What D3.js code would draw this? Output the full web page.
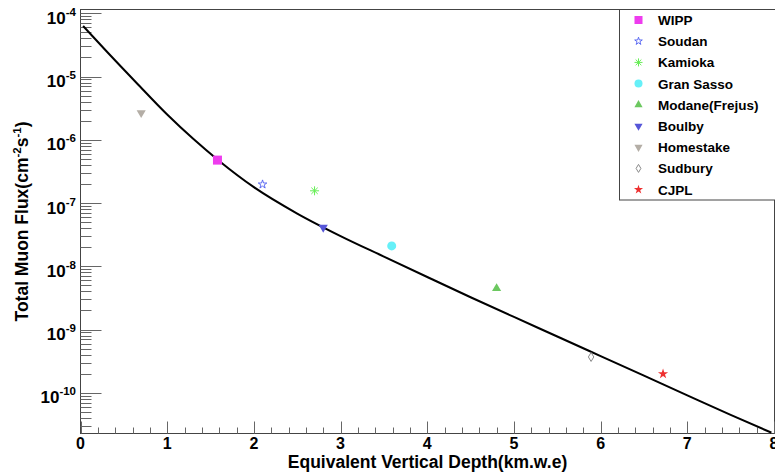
<!DOCTYPE html>
<html><head><meta charset="utf-8">
<script src="https://cdn.jsdelivr.net/npm/d3@7"></script>
<style>
body{margin:0;background:#fff}
svg{display:block;font-family:"Liberation Sans",Arial,Helvetica,sans-serif;font-weight:bold}
</style></head>
<body><svg id="c" width="775" height="473"></svg>
<script>
// ---- data ----
const sites = ["WIPP","Soudan","Kamioka","Gran Sasso","Modane(Frejus)","Boulby","Homestake","Sudbury","CJPL"];
const siteDepth = [1.58, 2.10, 2.70, 3.59, 4.80, 2.80, 0.70, 5.89, 6.72];
const siteFlux  = [4.77e-7, 1.97e-7, 1.56e-7, 2.1e-8, 4.46e-9, 4.11e-8, 2.67e-6, 3.68e-10, 1.98e-10];
const curveDepth = [0.03, 0.3, 0.65, 1.0, 1.3, 1.6, 2.0, 2.5, 3.0, 3.5, 4.0, 4.5, 5.0, 5.5, 6.0, 6.5, 7.0, 7.5, 7.97];
const curveFlux  = [6.3e-5, 2.51e-5, 7.85e-6, 2.51e-6, 1.035e-6, 4.62e-7, 1.78e-7, 6.81e-8, 3.0e-8, 1.42e-8, 6.76e-9, 3.24e-9, 1.58e-9, 7.76e-10, 3.8e-10, 1.86e-10, 9.1e-11, 4.47e-11, 2.34e-11];
const xTicks = [0,1,2,3,4,5,6,7,8];
const yExponents = [-4,-5,-6,-7,-8,-9,-10];

// ---- styles ----
const markerStyle = {
  "WIPP":          {type:"square",  color:"#ee3cee"},
  "Soudan":        {type:"ostar",   color:"#4f5ff0"},
  "Kamioka":       {type:"aster",   color:"#66ee55"},
  "Gran Sasso":    {type:"circle",  color:"#66f0f8"},
  "Modane(Frejus)":{type:"tri",     color:"#6cc860"},
  "Boulby":        {type:"tridown", color:"#5656d8"},
  "Homestake":     {type:"tridown", color:"#b4aea6"},
  "Sudbury":       {type:"odiam",   color:"#8a8a8a"},
  "CJPL":          {type:"star",    color:"#ee3030"}
};

const svg = d3.select("#c");
const L=80.5, R=774.5, T=9.5, B=433.5;
const x = d3.scaleLinear().domain([0,8]).range([L, R-0.5]);
const y = d3.scaleLog().domain([2.31e-11, 1.148e-4]).range([B-0.5, T]);

const axisCol="#444", tickCol="#666";

// frame
svg.append("rect").attr("x",L).attr("y",T).attr("width",R-L).attr("height",B-T)
  .attr("fill","none").attr("stroke",axisCol).attr("stroke-width",1);

// x ticks
const xMinor = d3.range(0, 8.0001, 0.2);
svg.append("g").selectAll("line").data(xMinor).join("line")
  .attr("x1",d=>Math.round(x(d))+0.5).attr("x2",d=>Math.round(x(d))+0.5)
  .attr("y1",B).attr("y2",d=> (Math.abs(d-Math.round(d))<1e-6) ? B-12 : B-6)
  .attr("stroke",tickCol);
svg.append("g").selectAll("text").data(xTicks).join("text")
  .attr("x",d=>x(d)).attr("y",449).attr("text-anchor","middle")
  .attr("font-size",16).attr("fill","#000").text(d=>d);

// y ticks
const yMinor = [];
for (let e=-11;e<=-4;e++) for (let m=1;m<=9;m++){ const v=m*Math.pow(10,e); if (v>=2.31e-11 && v<=1.148e-4) yMinor.push({v, major:m===1}); }
svg.append("g").selectAll("line").data(yMinor).join("line")
  .attr("x1",L).attr("x2",d=>d.major? L+21 : L+11)
  .attr("y1",d=>Math.round(y(d.v))+0.5).attr("y2",d=>Math.round(y(d.v))+0.5)
  .attr("stroke",tickCol);
const yl = svg.append("g").selectAll("text").data(yExponents).join("text")
  .attr("x",76).attr("y",d=>y(Math.pow(10,d))+10.5).attr("text-anchor","end")
  .attr("font-size",17).attr("fill","#000");
yl.append("tspan").text("10");
yl.append("tspan").attr("dy",-8).attr("font-size",11.5).text(d=>"-"+(-d));

// axis titles
svg.append("text").attr("x",(L+R)/2).attr("y",468).attr("text-anchor","middle")
  .attr("font-size",17.5).text("Equivalent Vertical Depth(km.w.e)");
const yt = svg.append("text").attr("transform",`translate(28,${(T+B)/2}) rotate(-90)`)
  .attr("text-anchor","middle").attr("font-size",17.5);
yt.append("tspan").text("Total Muon Flux(cm");
yt.append("tspan").attr("dy",-7).attr("font-size",11.5).text("-2");
yt.append("tspan").attr("dy",7).text("s");
yt.append("tspan").attr("dy",-7).attr("font-size",11.5).text("-1");
yt.append("tspan").attr("dy",7).text(")");

// curve
const pts = curveDepth.map((d,i)=>[d, curveFlux[i]]);
svg.append("path").datum(pts)
  .attr("d", d3.line().x(d=>x(d[0])).y(d=>y(d[1])).curve(d3.curveMonotoneX))
  .attr("fill","none").attr("stroke","#000").attr("stroke-width",2);

// marker drawing
function drawMarker(g, cx, cy, st, s){
  const c = st.color;
  const t = `translate(${cx},${cy})`;
  switch(st.type){
    case "square":
      g.append("rect").attr("x",cx-s/2).attr("y",cy-s/2).attr("width",s).attr("height",s).attr("fill",c); break;
    case "circle":
      g.append("circle").attr("cx",cx).attr("cy",cy).attr("r",s/2).attr("fill",c); break;
    case "tri":
      g.append("path").attr("transform",t).attr("d",d3.symbol(d3.symbolTriangle, s*s*0.45)()).attr("fill",c); break;
    case "tridown":
      g.append("path").attr("transform",t+" rotate(180)").attr("d",d3.symbol(d3.symbolTriangle, s*s*0.45)()).attr("fill",c); break;
    case "star":
      g.append("path").attr("transform",t).attr("d",d3.symbol(d3.symbolStar, s*s*0.4)()).attr("fill",c); break;
    case "ostar":
      g.append("path").attr("transform",t).attr("d",d3.symbol(d3.symbolStar, s*s*0.28)()).attr("fill","none").attr("stroke",c).attr("stroke-width",0.9); break;
    case "odiam": {
      const w=s*0.3, h=s*0.5;
      g.append("path").attr("d",`M${cx},${cy-h}L${cx+w},${cy}L${cx},${cy+h}L${cx-w},${cy}Z`).attr("fill","none").attr("stroke",c).attr("stroke-width",1); break; }
    case "aster": {
      const r=s/2, r2=r*0.7071;
      g.append("path").attr("d",`M${cx-r},${cy}L${cx+r},${cy}M${cx},${cy-r}L${cx},${cy+r}M${cx-r2},${cy-r2}L${cx+r2},${cy+r2}M${cx-r2},${cy+r2}L${cx+r2},${cy-r2}`)
        .attr("stroke",c).attr("stroke-width",1).attr("fill","none"); break; }
  }
}

// data points
const pg = svg.append("g");
sites.forEach((name,i)=> drawMarker(pg, x(siteDepth[i]), y(siteFlux[i]), markerStyle[name], 9));

// legend
svg.append("rect").attr("x",619.5).attr("y",9.5).attr("width",170).attr("height",190.5)
  .attr("fill","#fff").attr("stroke",axisCol);
const lg = svg.append("g");
sites.forEach((name,i)=>{
  const cy = 20 + i*21.2;
  drawMarker(lg, 638.5, cy, markerStyle[name], 8);
  lg.append("text").attr("x",658).attr("y",cy+5).attr("font-size",13.5).attr("fill","#000").text(name);
});
</script></body></html>
